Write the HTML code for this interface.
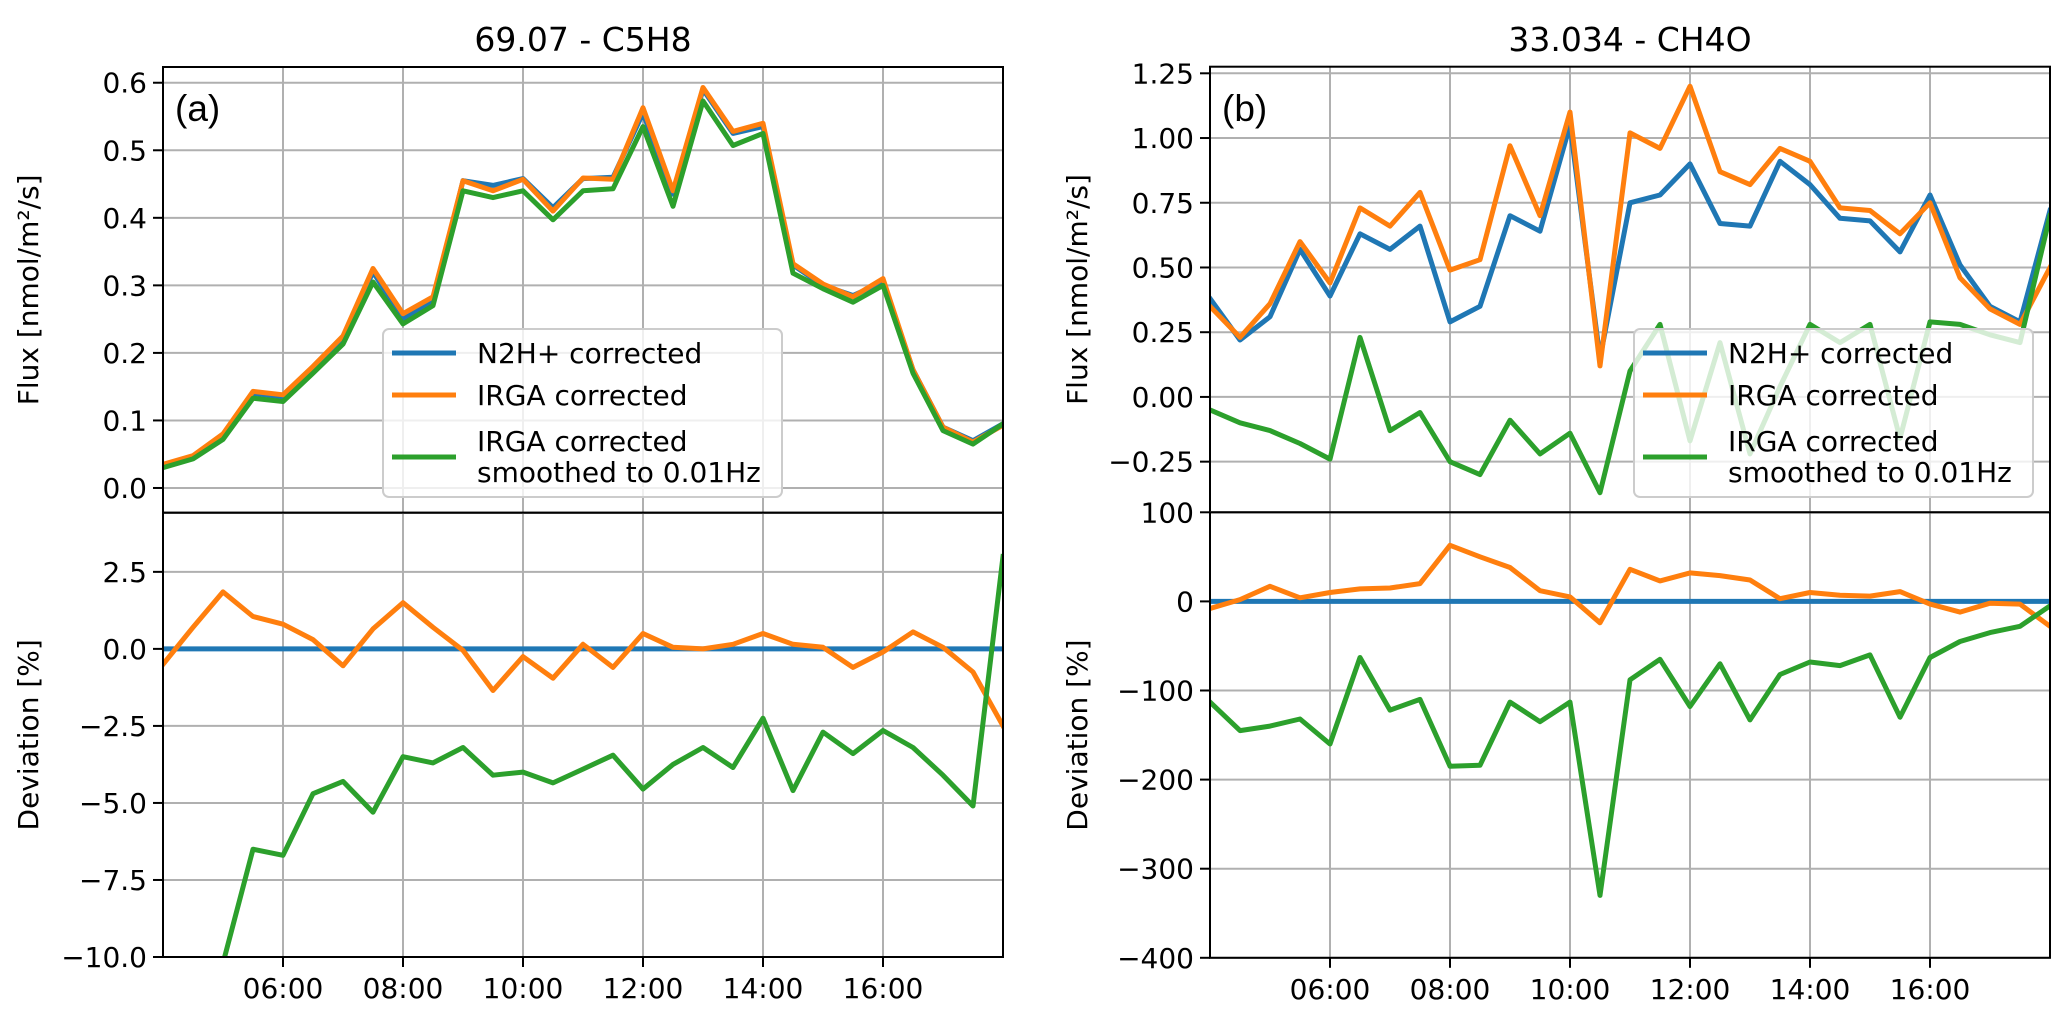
<!DOCTYPE html>
<html><head><meta charset="utf-8"><style>
html,body{margin:0;padding:0;background:#fff;width:2067px;height:1025px;overflow:hidden}
svg{display:block}
text{font-family:"DejaVu Sans","Liberation Sans",sans-serif;fill:#000}
</style></head><body>
<svg id="chart" width="2067" height="1025" viewBox="0 0 2067 1025" xmlns="http://www.w3.org/2000/svg"></svg>
<script>
// ---- data (times in hours, half-hourly 04:00..18:00) ----
const times = [4,4.5,5,5.5,6,6.5,7,7.5,8,8.5,9,9.5,10,10.5,11,11.5,12,12.5,13,13.5,14,14.5,15,15.5,16,16.5,17,17.5,18];
const xTickHours = [6,8,10,12,14,16];
const xTickLabels = ["06:00","08:00","10:00","12:00","14:00","16:00"];

// Panel (a) C5H8 flux
const aN2H = [0.033,0.045,0.075,0.14,0.135,0.175,0.22,0.32,0.25,0.275,0.455,0.448,0.458,0.415,0.458,0.46,0.555,0.435,0.59,0.525,0.535,0.33,0.3,0.285,0.305,0.175,0.09,0.07,0.095];
const aIRGA = [0.035,0.048,0.08,0.143,0.138,0.18,0.225,0.325,0.258,0.283,0.455,0.44,0.457,0.41,0.459,0.457,0.563,0.44,0.593,0.528,0.54,0.332,0.302,0.283,0.31,0.175,0.09,0.068,0.093];
const aSmooth = [0.03,0.043,0.072,0.133,0.128,0.17,0.213,0.305,0.243,0.27,0.44,0.43,0.44,0.397,0.44,0.443,0.535,0.417,0.573,0.507,0.525,0.318,0.295,0.275,0.3,0.17,0.085,0.065,0.095];
const aDevN2H = times.map(()=>0);
const aDevIRGA = [-0.5,0.7,1.85,1.05,0.8,0.3,-0.55,0.65,1.5,0.7,-0.05,-1.35,-0.25,-0.95,0.15,-0.6,0.5,0.05,0.0,0.15,0.5,0.15,0.05,-0.6,-0.1,0.55,0.05,-0.75,-2.5];
const aDevSmooth = [-15,-13,-10.2,-6.5,-6.7,-4.7,-4.3,-5.3,-3.5,-3.7,-3.2,-4.1,-4.0,-4.35,-3.9,-3.45,-4.55,-3.75,-3.2,-3.85,-2.25,-4.6,-2.7,-3.4,-2.65,-3.2,-4.1,-5.1,3.0];
const aFluxTicks = [0.0,0.1,0.2,0.3,0.4,0.5,0.6];
const aFluxTickLabels = ["0.0","0.1","0.2","0.3","0.4","0.5","0.6"];
const aDevTicks = [2.5,0,-2.5,-5,-7.5,-10];
const aDevTickLabels = ["2.5","0.0","\u22122.5","\u22125.0","\u22127.5","\u221210.0"];

// Panel (b) CH4O flux
const bN2H = [0.38,0.22,0.31,0.57,0.39,0.63,0.57,0.66,0.29,0.35,0.70,0.64,1.05,0.15,0.75,0.78,0.90,0.67,0.66,0.91,0.82,0.69,0.68,0.56,0.78,0.51,0.35,0.29,0.72];
const bIRGA = [0.35,0.23,0.36,0.60,0.44,0.73,0.66,0.79,0.49,0.53,0.97,0.70,1.10,0.12,1.02,0.96,1.20,0.87,0.82,0.96,0.91,0.73,0.72,0.63,0.75,0.46,0.34,0.28,0.50];
const bSmooth = [-0.05,-0.10,-0.13,-0.18,-0.24,0.23,-0.13,-0.06,-0.25,-0.30,-0.09,-0.22,-0.14,-0.37,0.10,0.28,-0.17,0.21,-0.22,0.04,0.28,0.21,0.28,-0.16,0.29,0.28,0.24,0.21,0.70];
const bDevN2H = times.map(()=>0);
const bDevIRGA = [-8,2,17,4,10,14,15,20,63,50,38,12,5,-24,36,23,32,29,24,3,10,7,6,11,-3,-12,-2,-3,-28];
const bDevSmooth = [-113,-145,-140,-132,-160,-63,-122,-110,-185,-184,-113,-135,-113,-330,-88,-65,-118,-70,-133,-82,-68,-72,-60,-130,-63,-45,-35,-28,-5];
const bFluxTicks = [-0.25,0,0.25,0.5,0.75,1.0,1.25];
const bFluxTickLabels = ["\u22120.25","0.00","0.25","0.50","0.75","1.00","1.25"];
const bDevTicks = [100,0,-100,-200,-300,-400];
const bDevTickLabels = ["100","0","\u2212100","\u2212200","\u2212300","\u2212400"];

const legendLabels = ["N2H+ corrected","IRGA corrected",["IRGA corrected","smoothed to 0.01Hz"]];
const COLORS = ["#1f77b4","#ff7f0e","#2ca02c"];

const svg = document.getElementById('chart');
const NS = "http://www.w3.org/2000/svg";
function mk(tag, attrs, parent){
  const e = document.createElementNS(NS, tag);
  for (const k in attrs) e.setAttribute(k, attrs[k]);
  (parent||svg).appendChild(e);
  return e;
}
function linScale(d0,d1,r0,r1){ return v => r0 + (v-d0)*(r1-r0)/(d1-d0); }

let clipId = 0;
function panel(opt){
  const g = mk('g',{});
  
  
  const X = linScale(4,18,opt.x0,opt.x1);
  const Y = linScale(opt.ymin,opt.ymax,opt.y1,opt.y0);
  const cid = 'clip'+(clipId++);
  const cp = mk('clipPath',{id:cid},g);
  mk('rect',{x:opt.x0,y:opt.y0,width:opt.x1-opt.x0,height:opt.y1-opt.y0},cp);
  const grid = mk('g',{},g);
  
  
  xTickHours.forEach(h=>{
    mk('line',{x1:X(h),x2:X(h),y1:opt.y0,y2:opt.y1,stroke:'#b0b0b0','stroke-width':2},grid);
  });
  opt.ticks.forEach(t=>{
    mk('line',{x1:opt.x0,x2:opt.x1,y1:Y(t),y2:Y(t),stroke:'#b0b0b0','stroke-width':2},grid);
  });
  const sg = mk('g',{'clip-path':'url(#'+cid+')'},g);
  opt.series.forEach((s,i)=>{
    const d = s.map((v,j)=>(j?'L':'M')+X(times[j]).toFixed(1)+','+Y(v).toFixed(1)).join(' ');
    const p = mk('path',{d:d,fill:'none',stroke:COLORS[i],'stroke-width':5,'stroke-linejoin':'round','stroke-linecap':'square'},sg);
    
    
  });
  mk('rect',{x:opt.x0,y:opt.y0,width:opt.x1-opt.x0,height:opt.y1-opt.y0,fill:'none',stroke:'#000','stroke-width':2},g);
  const yt = mk('g',{},g);
  
  
  opt.ticks.forEach((t,i)=>{
    mk('line',{x1:opt.x0-10,x2:opt.x0,y1:Y(t),y2:Y(t),stroke:'#000','stroke-width':2},yt);
    const tx = mk('text',{x:opt.x0-16,y:Y(t)+10,'text-anchor':'end','font-size':28},yt);
    tx.textContent = opt.tickLabels[i];
  });
  if (opt.xlabels){
    const xt = mk('g',{},g);
    
    
    xTickHours.forEach((h,i)=>{
      mk('line',{x1:X(h),x2:X(h),y1:opt.y1,y2:opt.y1+10,stroke:'#000','stroke-width':2},xt);
      const tx = mk('text',{x:X(h),y:opt.y1+41,'text-anchor':'middle','font-size':28},xt);
      tx.textContent = xTickLabels[i];
    });
  }
  const yl = mk('text',{x:0,y:0,'text-anchor':'middle','font-size':28,transform:'translate('+opt.ylabelX+','+((opt.y0+opt.y1)/2)+') rotate(-90)'},g);
  
  
  yl.textContent = opt.ylabel;
  return {g,X,Y};
}

function legend(x,y,name){
  const lg = mk('g',{});
  
  
  mk('rect',{x:x,y:y,width:399,height:168,rx:6,fill:'#fff','fill-opacity':0.8,stroke:'#cccccc','stroke-width':2},lg);
  const rows=[24,66,128];
  legendLabels.forEach((lab,i)=>{
    const e = mk('g',{},lg);
    
    
    mk('line',{x1:x+9,x2:x+73,y1:y+rows[i],y2:y+rows[i],stroke:COLORS[i],'stroke-width':5},e);
    if (Array.isArray(lab)){
      const t1 = mk('text',{x:x+94,y:y+rows[i]-6,'font-size':28},e); t1.textContent=lab[0];
      const t2 = mk('text',{x:x+94,y:y+rows[i]+25,'font-size':28},e); t2.textContent=lab[1];
    } else {
      const t = mk('text',{x:x+94,y:y+rows[i]+10,'font-size':28},e); t.textContent=lab;
    }
  });
}

const names = ['n2h-line','irga-line','irga-smoothed-line'];
panel({name:'panel-a-flux',x0:163,x1:1003,y0:67,y1:512.7,ymin:-0.0366,ymax:0.6233,ticks:aFluxTicks,tickLabels:aFluxTickLabels,series:[aN2H,aIRGA,aSmooth],seriesNames:names,ylabelX:38,ylabel:'Flux [nmol/m\u00b2/s]'});
panel({name:'panel-a-deviation',x0:163,x1:1003,y0:512.7,y1:957,ymin:-10,ymax:4.42,ticks:aDevTicks,tickLabels:aDevTickLabels,series:[aDevN2H,aDevIRGA,aDevSmooth],seriesNames:names,xlabels:true,ylabelX:38,ylabel:'Deviation [%]'});
panel({name:'panel-b-flux',x0:1210,x1:2050,y0:66.7,y1:512.3,ymin:-0.4456,ymax:1.2755,ticks:bFluxTicks,tickLabels:bFluxTickLabels,series:[bN2H,bIRGA,bSmooth],seriesNames:names,ylabelX:1087,ylabel:'Flux [nmol/m\u00b2/s]'});
panel({name:'panel-b-deviation',x0:1210,x1:2050,y0:512.3,y1:957.8,ymin:-400,ymax:100,ticks:bDevTicks,tickLabels:bDevTickLabels,series:[bDevN2H,bDevIRGA,bDevSmooth],seriesNames:names,xlabels:true,ylabelX:1087,ylabel:'Deviation [%]'});

legend(383,329,'legend-a');
legend(1634,329,'legend-b');

const t1 = mk('text',{x:583,y:51,'text-anchor':'middle','font-size':33});
 
t1.textContent='69.07 - C5H8';
const t2 = mk('text',{x:1630,y:51,'text-anchor':'middle','font-size':33});
 
t2.textContent='33.034 - CH4O';
const la = mk('text',{x:175,y:121,'font-size':37,style:'font-family:"Liberation Sans",sans-serif'});
 
la.textContent='(a)';
const lb = mk('text',{x:1222,y:121,'font-size':37,style:'font-family:"Liberation Sans",sans-serif'});
 
lb.textContent='(b)';
</script>
</body></html>
